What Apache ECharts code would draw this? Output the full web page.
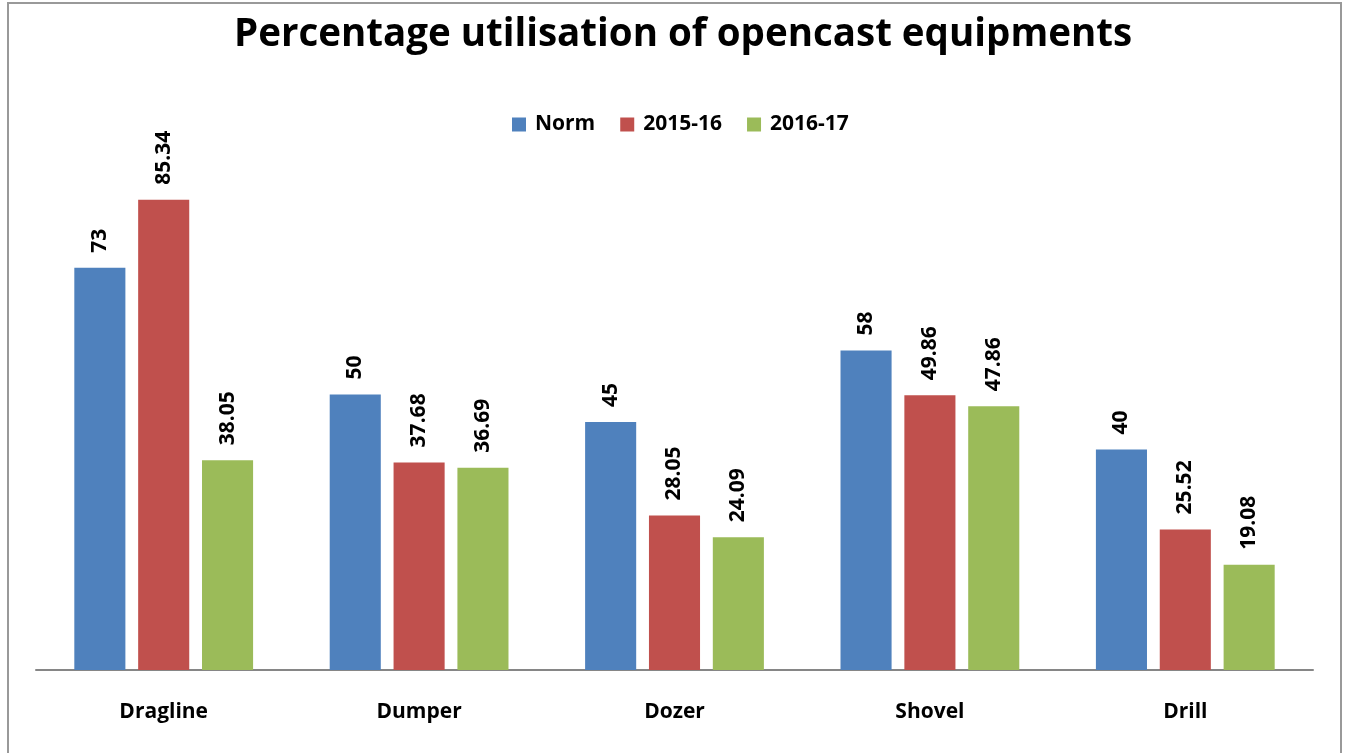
<!DOCTYPE html>
<html lang="en">
<head>
    <meta charset="UTF-8">
    <title>Percentage utilisation of opencast equipments</title>
    <script src="https://cdn.jsdelivr.net/npm/echarts@6/dist/echarts.min.js"></script>
    <style>
        html, body { margin: 0; padding: 0; background: #fff; }
        #chart_main { width: 1349px; height: 753px; }
    </style>
</head>
<body>
<div id="chart_main"></div>
<script>
  // data
  var categories = ['Dragline', 'Dumper', 'Dozer', 'Shovel', 'Drill'];
  var normValues = [73, 50, 45, 58, 40];
  var values1516 = [85.34, 37.68, 28.05, 49.86, 25.52];
  var values1617 = [38.05, 36.69, 24.09, 47.86, 19.08];
  var seriesNames = ['Norm', '2015-16', '2016-17'];
  var colors = ['#4F81BD', '#C0504D', '#9BBB59'];

  var FONT = '"Open Sans", "Noto Sans", sans-serif';

  function makeSeries(name, data, color) {
    return {
      name: name,
      type: 'bar',
      data: data,
      barGap: '25%',
      barCategoryGap: '30%',
      itemStyle: { color: color },
      label: {
        show: true,
        position: 'top',
        rotate: 90,
        align: 'left',
        verticalAlign: 'middle',
        distance: 15,
        color: '#000',
        fontFamily: FONT,
        fontWeight: 'bold',
        fontSize: 21
      }
    };
  }

  var myChart = echarts.init(document.getElementById('chart_main'));
  var option = {
    animation: false,
    color: colors,
    title: {
      text: 'Percentage utilisation of opencast equipments',
      left: 229,
      top: 11,
      textStyle: {
        fontFamily: FONT,
        fontWeight: 'bold',
        fontSize: 38.5,
        color: '#000'
      }
    },
    legend: {
      data: seriesNames,
      top: 109,
      left: 507,
      itemWidth: 14,
      itemHeight: 14,
      itemGap: 25,
      icon: 'rect',
      textStyle: {
        fontFamily: FONT,
        fontWeight: 'bold',
        fontSize: 21,
        color: '#000',
        padding: [0, 0, 0, 4]
      }
    },
    grid: { left: 36, right: 36, top: 119, bottom: 83 },
    xAxis: {
      type: 'category',
      data: categories,
      axisLine: { lineStyle: { color: '#868686', width: 2 } },
      axisTick: { show: false },
      axisLabel: {
        margin: 32,
        color: '#000',
        fontFamily: FONT,
        fontWeight: 'bold',
        fontSize: 21
      }
    },
    yAxis: {
      type: 'value',
      min: 0,
      max: 100,
      show: false,
      splitLine: { show: false }
    },
    graphic: [{
      type: 'rect',
      shape: { x: 8, y: 3, width: 1333, height: 760 },
      style: { fill: 'none', stroke: '#999', lineWidth: 2 },
      silent: true
    }],
    series: [
      makeSeries(seriesNames[0], normValues, colors[0]),
      makeSeries(seriesNames[1], values1516, colors[1]),
      makeSeries(seriesNames[2], values1617, colors[2])
    ]
  };
  myChart.setOption(option);
</script>
</body>
</html>
